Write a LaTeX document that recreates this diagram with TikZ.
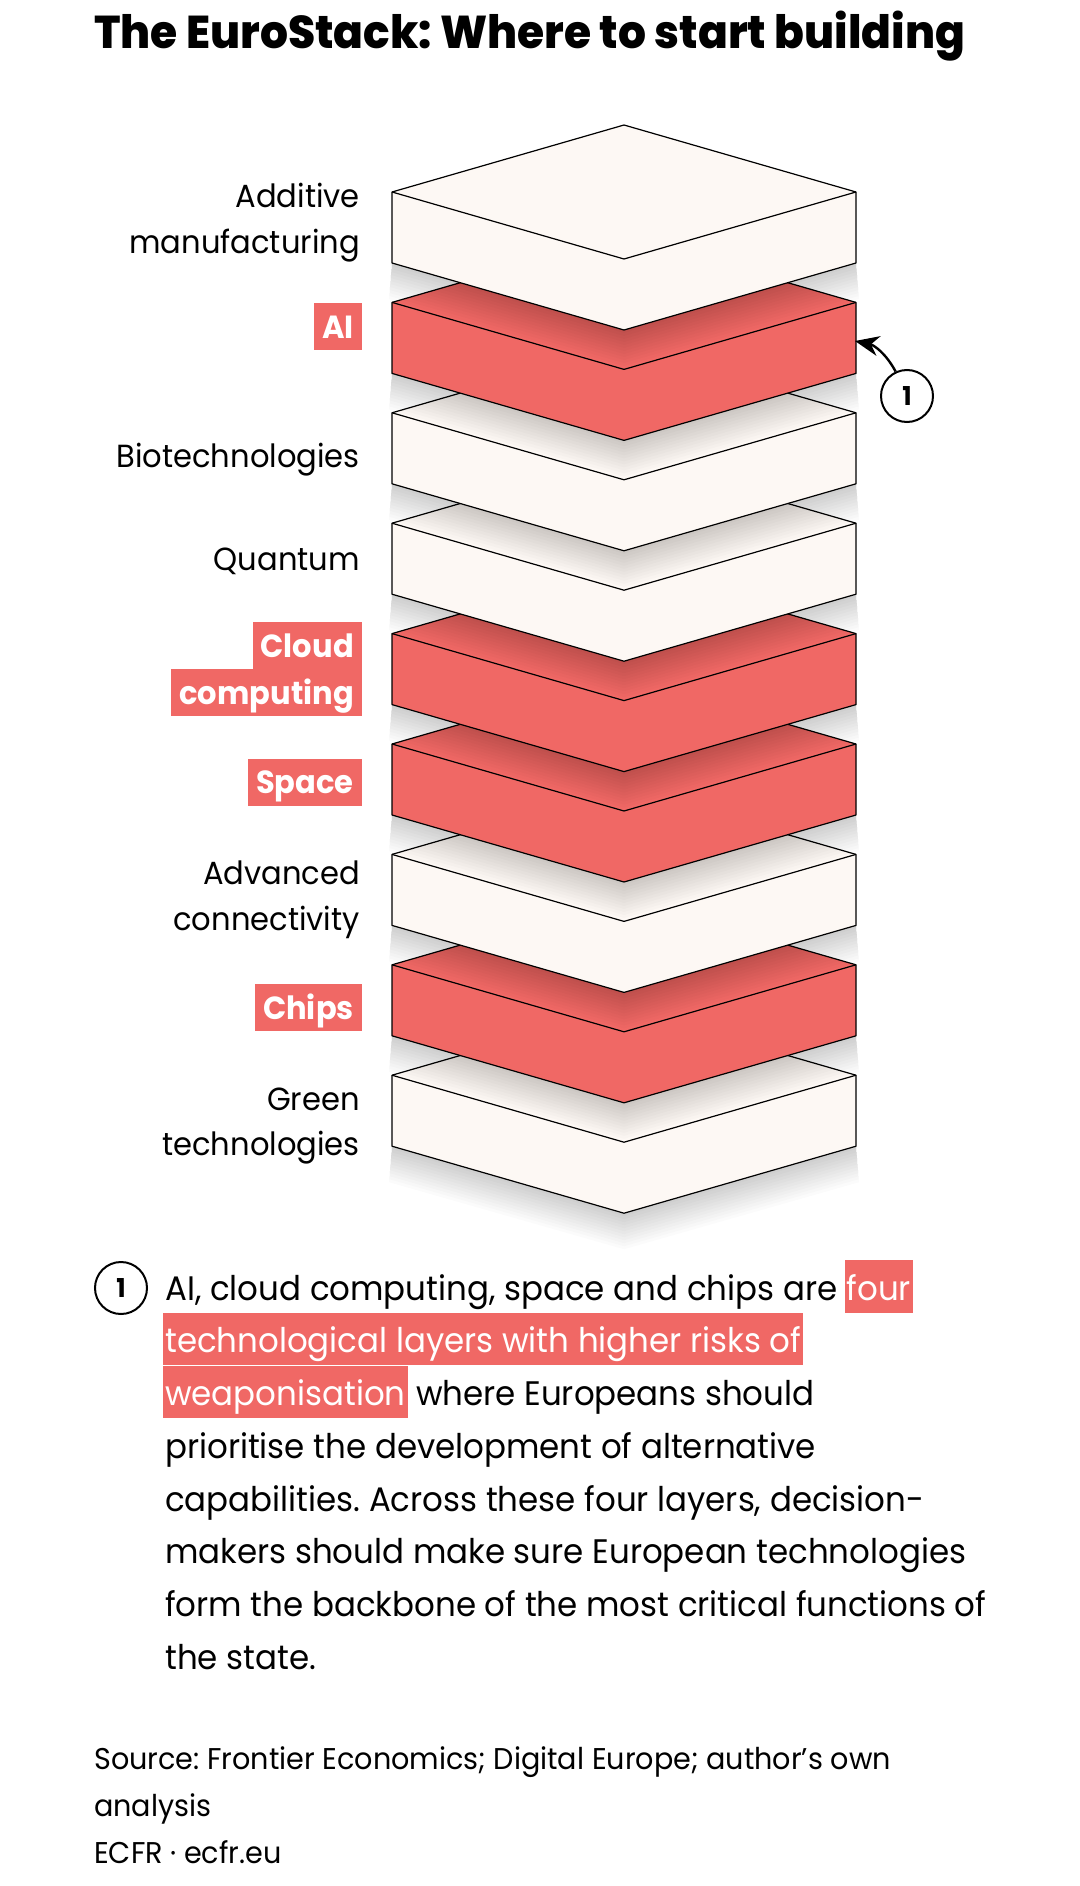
\documentclass[tikz,border=0pt]{standalone}
\usepackage{fontspec}
\setmainfont{Poppins}[FakeStretch=0.955]
\newfontfamily\titlefont{Poppins ExtraBold}[FakeStretch=0.955]
\usetikzlibrary{positioning, arrows.meta}
\definecolor{stackred}{HTML}{F06865}
\definecolor{stackcream}{HTML}{FDF8F4}
\frenchspacing
\tikzset{
lbl/.style={anchor=base east, inner sep=0pt, font=\fontsize{32}{40}\selectfont},
hilbl/.style={anchor=base east, fill=stackred, text=white, inner xsep=8pt, inner ysep=0pt,
  text height=35pt, text depth=12pt, font=\bfseries\fontsize{32}{40}\selectfont},
bodytxt/.style={anchor=base west, inner sep=0pt, font=\fontsize{34}{40}\selectfont},
hibody/.style={bodytxt, fill=stackred, text=white, inner xsep=2pt, text height=40pt, text depth=12.7pt},
srctxt/.style={anchor=base west, inner sep=0pt, font=\fontsize{30}{36}\selectfont},
numcirc/.style={circle, draw, line width=2pt, minimum size=52pt, inner sep=0pt,
  font=\bfseries\fontsize{26}{26}\selectfont},
}

\begin{document}
\begin{tikzpicture}[x=1pt, y=-1pt]
\useasboundingbox (0,0) rectangle (1079,1886);
\fill[white] (0,0) rectangle (1079,1886);
\node[anchor=base west, inner sep=0pt, font=\titlefont\fontsize{46}{52}\selectfont] (title) at (94,49)
  {The EuroStack: Where to start building};

% the stack, bottom layer first
\foreach \i/\col in {8/stackcream, 7/stackred, 6/stackcream, 5/stackred, 4/stackred,
  3/stackcream, 2/stackcream, 1/stackred, 0/stackcream}
{
\pgfmathsetmacro\yc{192+110.4*\i}
\foreach \k in {1,...,12}
\fill[black, opacity=0.014] (392,\yc+71) -- (624,\yc+138) -- (856,\yc+71)
  -- (856+\k*0.25,\yc+71+\k*3) -- (624,\yc+138+\k*3) -- (392-\k*0.25,\yc+71+\k*3) -- cycle;
\filldraw[fill=\col, line width=1.2pt, line join=round] (392,\yc) -- (624,\yc-67) -- (856,\yc)
  -- (856,\yc+71) -- (624,\yc+138) -- (392,\yc+71) -- cycle;
\draw[line width=1.2pt, line join=round] (392,\yc) -- (624,\yc+67) -- (856,\yc);
}

% layer names
\foreach \nm/\y/\txt in {additive/207.5/Additive, manuf/254/manufacturing, bio/467.7/Biotechnologies,
  quantum/570/Quantum, advanced/884/Advanced, connect/930/connectivity, green/1110/Green,
  greentech/1155/technologies}
\node[lbl] (\nm) at (360,\y) {\txt};
\foreach \nm/\y/\txt in {ai/338/AI, cloud/657/Cloud, computing/704/computing~, space/793.7/Space,
  chips/1019.3/Chips}
\node[hilbl] (\nm) at (362,\y) {\txt};

% note 1
\node[numcirc] (note) at (907,396) {1};
\coordinate (aiedge) at (855,341);
\draw[-{Stealth[length=24pt,width=20pt]}, line width=2.4pt] (note.115) to[bend right=25] (aiedge);

% text below
\node[numcirc] (notetxt) at (121,1288) {1};
\node[bodytxt] (line1) at (165,1300) {AI, cloud computing, space and chips are};
\node[hibody, anchor=base west] (four) at ([xshift=7pt]line1.base east) {four};
\node[hibody] (line2) at (163,1352.75) {technological layers with higher risks of};
\node[hibody] (weapon) at (163,1405.5) {weaponisation~};
\node[bodytxt] (line3) at ([xshift=8pt]weapon.base east) {where Europeans should};
\foreach \n/\txt in {4/prioritise the development of alternative,
  5/{capabilities. Across these four layers, decision-},
  6/makers should make sure European technologies,
  7/form the backbone of the most critical functions of, 8/the state.}
\node[bodytxt] (line\n) at (165,{1300+(\n-1)*52.75}) {\txt};

\node[srctxt] (src1) at (94,1769) {Source: Frontier Economics; Digital Europe; author’s own};
\node[srctxt] (src2) at (94,1816) {analysis};
\node[srctxt] (src3) at (94,1863) {ECFR · ecfr.eu};
\end{tikzpicture}
\end{document}
